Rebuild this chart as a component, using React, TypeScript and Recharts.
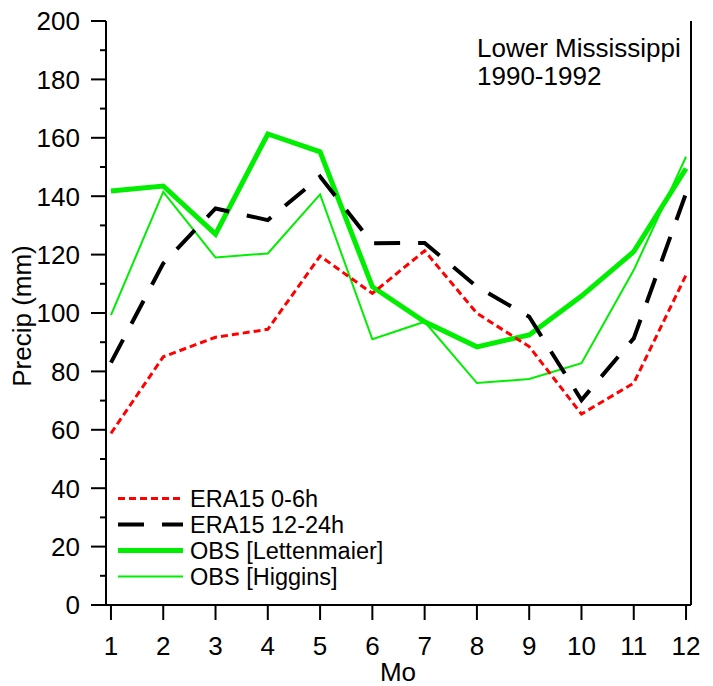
import React from 'react';
import { LineChart, Line, XAxis, YAxis, ReferenceLine } from 'recharts';

const months = [1, 2, 3, 4, 5, 6, 7, 8, 9, 10, 11, 12];
const era15Short = [58.8, 85, 91.7, 94.4, 119.5, 106.7, 121.3, 99.9, 88.5, 65.4, 76, 113];
const era15Long = [83, 117, 135.8, 131.8, 146.7, 123.9, 124, 109, 98.7, 70.2, 91.3, 141];
const obsLettenmaier = [141.8, 143.5, 127, 161.3, 155.2, 109, 97, 88.4, 92.5, 105.8, 121, 149.5];
const obsHiggins = [99.3, 141.5, 119, 120.4, 140.6, 91, 97, 76, 77.4, 82.8, 114.7, 153.5];

const yTicks = [0, 10, 20, 30, 40, 50, 60, 70, 80, 90, 100, 110, 120, 130, 140, 150, 160, 170, 180, 190, 200];
const xDomain: [number, number] = [0.905, 12.095];

const data = months.map((m, i) => ({
  m,
  short: era15Short[i],
  long: era15Long[i],
  lett: obsLettenmaier[i],
  hig: obsHiggins[i],
}));

const FONT = '"Liberation Sans", Arial, sans-serif';
const GREEN = '#00ee00';

const legendItems = [
  { name: 'ERA15 0-6h', color: '#ff0000', width: 3, dash: '7 4' },
  { name: 'ERA15 12-24h', color: '#000000', width: 4, dash: '26 18' },
  { name: 'OBS [Lettenmaier]', color: GREEN, width: 5, dash: undefined },
  { name: 'OBS [Higgins]', color: GREEN, width: 2, dash: undefined },
];

const YTick = (props: any) => {
  const { x, y, payload } = props;
  const major = payload.value % 20 === 0;
  return (
    <g>
      <line x1={x - (major ? 15 : 6)} x2={x} y1={y} y2={y} stroke="#000" strokeWidth={2} />
      {major && (
        <text x={x - 26} y={y} dy="0.36em" textAnchor="end" fontSize={26} fontFamily={FONT} fill="#000">
          {payload.value}
        </text>
      )}
    </g>
  );
};

const XTick = (props: any) => {
  const { x, y, payload } = props;
  return (
    <g>
      <line x1={x} x2={x} y1={y} y2={y + 15} stroke="#000" strokeWidth={2} />
      <text x={x} y={y + 41} dy="0.36em" textAnchor="middle" fontSize={26} fontFamily={FONT} fill="#000">
        {payload.value}
      </text>
    </g>
  );
};

export default function App() {
  return (
    <div style={{ position: 'absolute', left: 0, top: 0, width: 713, height: 686, background: '#fff' }}>
      <LineChart width={713} height={686} data={data} margin={{ top: 21, right: 22, bottom: 0, left: 0 }}>
        <XAxis
          dataKey="m"
          type="number"
          domain={xDomain}
          ticks={months}
          interval={0}
          height={81}
          tickSize={0}
          tickMargin={0}
          tick={<XTick />}
          axisLine={{ stroke: '#000', strokeWidth: 2 }}
        />
        <YAxis
          type="number"
          domain={[0, 200]}
          ticks={yTicks}
          interval={0}
          width={106}
          tickSize={0}
          tickMargin={0}
          tick={<YTick />}
          axisLine={{ stroke: '#000', strokeWidth: 2 }}
        />
        <ReferenceLine x={xDomain[1]} stroke="#000" strokeWidth={2} />
        <Line dataKey="lett" stroke={GREEN} strokeWidth={5} dot={false} activeDot={false} isAnimationActive={false} />
        <Line dataKey="hig" stroke={GREEN} strokeWidth={2} dot={false} activeDot={false} isAnimationActive={false} />
        <Line dataKey="short" stroke="#ff0000" strokeWidth={3} strokeDasharray="7 4" dot={false} activeDot={false} isAnimationActive={false} />
        <Line dataKey="long" stroke="#000" strokeWidth={4} strokeDasharray="26 18" dot={false} activeDot={false} isAnimationActive={false} />
      </LineChart>
      <svg width={713} height={686} style={{ position: 'absolute', left: 0, top: 0, pointerEvents: 'none' }}>
        <g fontFamily={FONT} fill="#000">
          <text x={477} y={57} fontSize={26}>Lower Mississippi</text>
          <text x={477} y={85} fontSize={26}>1990-1992</text>
          <text x={398} y={681} fontSize={26} textAnchor="middle">Mo</text>
          <text transform="translate(31,316) rotate(-90)" fontSize={26} textAnchor="middle">Precip (mm)</text>
          {legendItems.map((item, i) => {
            const cy = 498.5 + i * 26;
            return (
              <g key={item.name}>
                <line x1={118} x2={183} y1={cy} y2={cy} stroke={item.color} strokeWidth={item.width} strokeDasharray={item.dash} />
                <text x={190} y={cy} dy="0.36em" fontSize={23.5}>{item.name}</text>
              </g>
            );
          })}
        </g>
      </svg>
    </div>
  );
}
